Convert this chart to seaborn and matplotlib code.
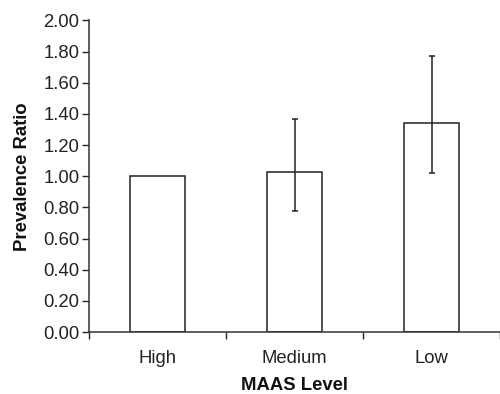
import seaborn as sns
import matplotlib.pyplot as plt
import numpy as np

levels = ["High", "Medium", "Low"]
ratios = [1.00, 1.03, 1.34]
ci_low = [np.nan, 0.78, 1.02]
ci_high = [np.nan, 1.37, 1.77]

sns.set_style("white")
plt.rcParams['font.family'] = ['Liberation Sans', 'DejaVu Sans']

fig = plt.figure(figsize=(5, 3.94), dpi=100)
ax = fig.add_axes([0.178, 0.157, 0.822, 0.791])

sns.barplot(x=levels, y=ratios, color="white", edgecolor="#222222",
            linewidth=1.1, width=0.4, ax=ax)

r = np.array(ratios)
lo = np.array(ci_low)
hi = np.array(ci_high)
ax.errorbar(np.arange(len(levels)), r, yerr=[r - lo, hi - r], fmt="none",
            ecolor="#222222", elinewidth=1.1, capsize=2.5, capthick=1.1)

ax.set_ylim(0, 2.0)
ax.set_yticks(np.arange(0, 2.01, 0.2))
ax.set_yticklabels([f"{v:.2f}" for v in np.arange(0, 2.01, 0.2)])
ax.set_xlim(-0.5, 2.5)
ax.set_xticks([-0.5, 0.5, 1.5, 2.5])
ax.set_xticklabels([])
ax.set_xticks([0, 1, 2], minor=True)
ax.set_xticklabels(levels, minor=True)
ax.tick_params(axis="x", which="minor", length=0, pad=13, labelsize=13.3, labelcolor="#222222")
ax.tick_params(axis="x", which="major", length=5, width=1, direction="out", bottom=True)
ax.tick_params(axis="y", length=5, width=1, direction="out", left=True, labelsize=13.3, pad=2,
               labelcolor="#222222")

for s in ["top", "right"]:
    ax.spines[s].set_visible(False)
for s in ["left", "bottom"]:
    ax.spines[s].set_color("#333333")
    ax.spines[s].set_linewidth(1.1)

ax.set_xlabel("MAAS Level", fontsize=13.3, fontweight="bold", labelpad=7, color="#111111")
ax.set_ylabel("Prevalence Ratio", fontsize=13.3, fontweight="bold", labelpad=9, color="#111111")

fig.savefig("out.png", dpi=100)
